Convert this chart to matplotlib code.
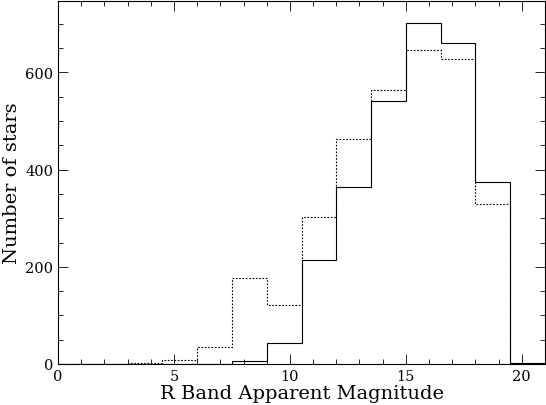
import numpy as np
import matplotlib
matplotlib.use("Agg")
import matplotlib.pyplot as plt
from matplotlib.ticker import MultipleLocator

# bords des classes (largeur 1.5 mag)
bords = np.arange(0, 22.5, 1.5)

# comptages
n_plein = [0, 0, 0, 0, 0, 6, 43, 214, 364, 541, 702, 660, 375, 2]
n_pointille = [0, 0, 2, 9, 36, 176, 121, 302, 464, 563, 646, 628, 329, 0]

plt.rcParams['font.family'] = ['DejaVu Serif']

fig = plt.figure(figsize=(5.46, 4.06), dpi=100)
ax = fig.add_axes([58/546, 41/406, 487/546, 363/406])

ax.stairs(n_plein, bords, color='black', linewidth=0.8)
ax.stairs(n_pointille, bords, color='black', linewidth=0.8, linestyle=(0, (1.5, 1.5)))

ax.set_xlim(0, 21)
ax.set_ylim(0, 747)

ax.xaxis.set_major_locator(MultipleLocator(5))
ax.xaxis.set_minor_locator(MultipleLocator(1))
ax.yaxis.set_major_locator(MultipleLocator(200))
ax.yaxis.set_minor_locator(MultipleLocator(50))
ax.tick_params(which='both', direction='in', top=True, right=True, labelsize=10.5, width=0.6)
ax.tick_params(which='major', length=7)
ax.tick_params(which='minor', length=3.5)
for s in ax.spines.values():
    s.set_linewidth(0.8)

ax.set_xlabel("R Band Apparent Magnitude", fontsize=14, labelpad=1)
ax.set_ylabel("Number of stars", fontsize=14, labelpad=3)

plt.savefig("out.png", dpi=100)
plt.close()
